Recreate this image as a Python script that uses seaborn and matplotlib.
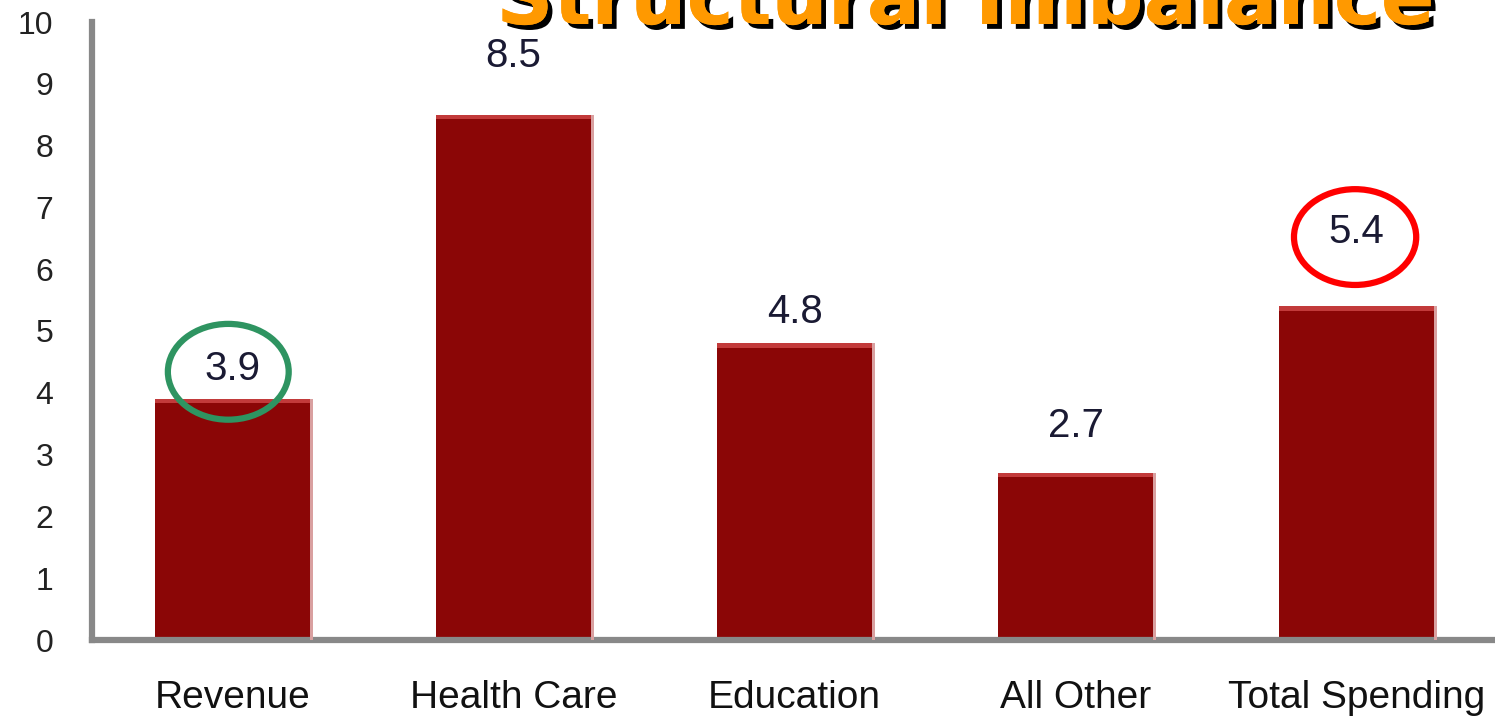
import matplotlib
matplotlib.use("Agg")
import matplotlib.pyplot as plt
import seaborn as sns
from matplotlib.patches import Ellipse, Rectangle
import matplotlib.patheffects as pe

# chart data
categories = ["Revenue", "Health Care", "Education", "All Other", "Total Spending"]
values = [3.9, 8.5, 4.8, 2.7, 5.4]
label_offsets = [30, 59, 31, 47, 74]  # pixels above bar top, as drawn in the source
yticks = list(range(0, 11))

sns.set_style("white")
plt.rcParams["font.family"] = ["Liberation Sans", "DejaVu Sans"]

fig = plt.figure(figsize=(14.95, 7.17), dpi=100)
ax = fig.add_axes([92 / 1495, 1 - 640 / 717, 1405 / 1495, 618 / 717])

sns.barplot(x=categories, y=values, color="#8B0606", saturation=1, width=0.55,
            edgecolor="none", ax=ax)

# 3D-ish highlight on bar tops
for p in ax.patches:
    ax.add_patch(Rectangle((p.get_x(), p.get_height() - 0.07), p.get_width(), 0.07,
                           color="#C23A3A", lw=0, zorder=3))
    ax.add_patch(Rectangle((p.get_x() + p.get_width(), 0), 0.012, p.get_height(),
                           color="#D9A0A0", lw=0, zorder=3))

# value labels
for i, (v, off) in enumerate(zip(values, label_offsets)):
    ax.annotate(f"{v}", (i, v), xytext=(0, off * 0.72), textcoords="offset points",
                ha="center", va="center", fontsize=29, color="#1a1a33")

ax.set_xlim(-0.5, 4.5)
ax.set_ylim(0, 10)
ax.set_yticks(yticks)
ax.set_yticklabels([str(t) for t in yticks], fontsize=23, color="#222222")
ax.tick_params(axis="y", length=8, width=1.5, color="#bbbbbb", pad=20)
ax.tick_params(axis="x", which="major", length=0, pad=29, labelsize=28, labelcolor="#111111")
ax.set_xticks([i - 0.5 for i in range(6)], minor=True)
ax.tick_params(axis="x", which="minor", length=14, width=1.5, color="#bbbbbb", direction="out")
ax.set_xlabel("")
ax.set_ylabel("")

for s in ["top", "right"]:
    ax.spines[s].set_visible(False)
for s in ["left", "bottom"]:
    ax.spines[s].set_color("#888888")
    ax.spines[s].set_linewidth(4.5)

# highlight circles
ax.add_patch(Ellipse((-0.015, 4.34), 0.43, 1.55, fill=False, ec="#2E9461", lw=4.5,
                     zorder=5, clip_on=False))
ax.add_patch(Ellipse((3.995, 6.52), 0.435, 1.55, fill=False, ec="#FF0000", lw=4.5,
                     zorder=5, clip_on=False))

# title, cut off at the top of the frame
fig.text(965 / 1495, 1 - 24 / 717, "Structural Imbalance", ha="center", va="baseline",
         fontsize=57, fontweight="bold", color="#FF9900", family="DejaVu Sans",
         path_effects=[pe.withSimplePatchShadow(offset=(3.5, -3.5), shadow_rgbFace="black",
                                                alpha=1.0), pe.Normal()])

fig.savefig("out.png", dpi=100)
